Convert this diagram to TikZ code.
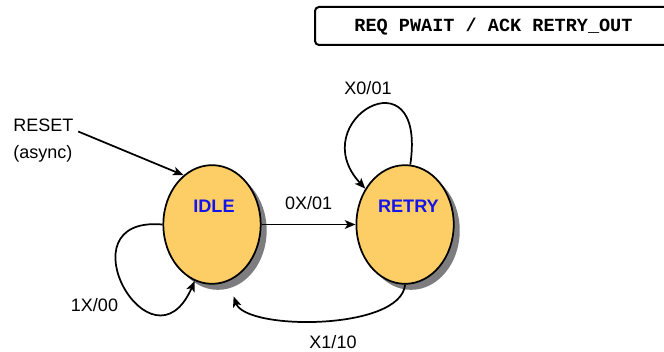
\documentclass[tikz,border=0pt]{standalone}
\usepackage{fontspec}
\setmainfont{Liberation Sans}
\newfontfamily\titlefont{Liberation Mono}
\usetikzlibrary{positioning,shapes.geometric,shadows,arrows.meta}
\definecolor{stateyellow}{RGB}{253,206,102}
\definecolor{statetext}{RGB}{20,20,235}
\definecolor{shadowgray}{RGB}{125,125,128}
\tikzset{state node/.style={ellipse,draw,line width=1.3pt,fill=stateyellow,minimum width=73pt,minimum height=89pt,inner sep=0pt,
		drop shadow={shadow xshift=4.5pt,shadow yshift=-4.5pt,fill=shadowgray,opacity=1}},
	state name/.style={inner sep=0pt,text=statetext,font=\fontsize{13.6}{16}\selectfont\bfseries},
	trans label/.style={inner sep=0pt,font=\fontsize{13.5}{16}\selectfont},
	trans/.style={line width=1.3pt,-{Stealth[length=8pt,width=6.5pt,inset=2pt]}},
	title frame/.style={draw,line width=1.5pt,rounded corners=3pt},
}

\begin{document}
\begin{tikzpicture}[x=0.75pt,y=-0.75pt]
	\useasboundingbox (0,0) rectangle (664,352);
	\clip (0,0) rectangle (664,352);
	\node[inner sep=0pt,font=\titlefont\fontsize{13.9}{16}\selectfont\bfseries] (title) at (493.5,27) {REQ PWAIT / ACK RETRY\_OUT};
	\path[title frame] (title.center) ++(-178.5,-20) rectangle ++(400,38);
	
	\node[state node] (idle) at (212,224.5) {};
	\node[state node] (retry)[right = 70.5pt of idle] {};
	\node[state name] (idlename) at ([xshift=1.5pt,yshift=13.5pt]idle.center) {IDLE};
	\node[state name] (retryname) at ([xshift=2.5pt,yshift=13.5pt]retry.center) {RETRY};
	
	\node[trans label,anchor=base west] (reset) at (13,131.5) {RESET};
	\node[trans label,anchor=base west] (async) at ([yshift=-20pt]reset.base west) {(async)};
	
	\draw[trans] ([xshift=3.5pt]reset.base east) -- (idle.120);
	\draw[trans] (idle) -- (retry) node[trans label,midway,yshift=16pt] (lblgo) {0X/01};
	% self loops
	\draw[trans] (idle.west) .. controls +(-103,-9) and +(-43,98) .. (idle.253);
	\draw[trans] (retry.85) .. controls +(17,-116) and +(-63,-68) .. (retry.138);
	\draw[trans,shorten >=12pt] (retry.south) .. controls +(-4,46) and +(17.5,49.5) .. (idle.286);
	
	\node[trans label] (lblidle) at (94.5,305) {1X/00};
	\node[trans label] (lblretry) at (368,88) {X0/01};
	\node[trans label] (lblback) at (333,342) {X1/10};
\end{tikzpicture}
\end{document}
